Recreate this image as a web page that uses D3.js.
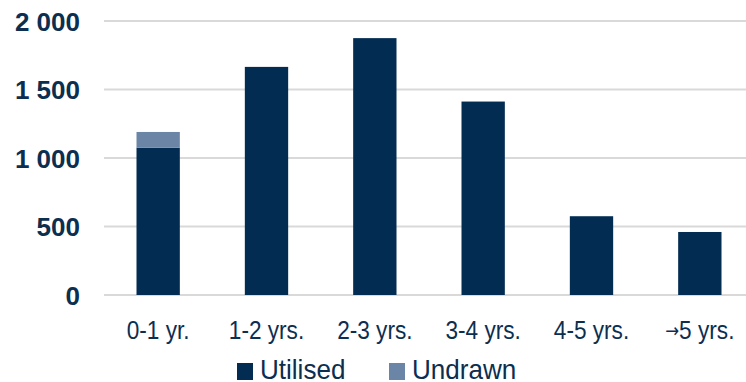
<!DOCTYPE html>
<html><head><meta charset="utf-8">
<script src="https://cdn.jsdelivr.net/npm/d3@7"></script>
<style>
html,body{margin:0;padding:0;background:#fff;}
</style></head>
<body>
<svg id="chart" width="746" height="382"></svg>
<script>
const categories = ["0-1 yr.", "1-2 yrs.", "2-3 yrs.", "3-4 yrs.", "4-5 yrs.", "\u21925 yrs."];
const utilised = [1075, 1665, 1875, 1412, 575, 460];
const undrawn = [115, 0, 0, 0, 0, 0];
const yTicks = [0, 500, 1000, 1500, 2000];
const seriesNames = ["Utilised", "Undrawn"];
const colors = ["#022c51", "#6a85a5"];

const svg = d3.select("#chart");
const x = d3.scaleBand().domain(categories).range([104, 754]).paddingInner(0.6).paddingOuter(0.3);
const y = d3.scaleLinear().domain([0, 2000]).range([295, 21]);
const fmt = d3.formatLocale({decimal: ".", thousands: " ", grouping: [3], currency: ["", ""]}).format(",");

function condense(sel, f) {
  sel.each(function() {
    const len = this.getComputedTextLength();
    d3.select(this).attr("textLength", len * f).attr("lengthAdjust", "spacingAndGlyphs");
  });
}

// gridlines
svg.append("g").selectAll("line").data(yTicks).join("line")
  .attr("x1", 104).attr("x2", 746)
  .attr("y1", d => y(d)).attr("y2", d => y(d))
  .attr("stroke", "#d9d9d9").attr("stroke-width", 2);

// y axis labels
const yAxis = d3.axisLeft(y).tickValues(yTicks).tickFormat(fmt).tickSize(0).tickPadding(0);
const gy = svg.append("g").attr("transform", "translate(80,0)").call(yAxis);
gy.select(".domain").remove();
gy.selectAll("text")
  .attr("font-family", "Liberation Sans, Arial, sans-serif")
  .attr("font-weight", "bold").attr("font-size", 26).attr("fill", "#0c2e4f")
  .attr("dy", "0.36em");

// stacked data
const stackData = categories.map((c, i) => ({cat: c, Utilised: utilised[i], Undrawn: undrawn[i]}));
const stack = d3.stack().keys(seriesNames)(stackData);

svg.append("g").selectAll("g").data(stack).join("g")
  .attr("fill", (d, i) => colors[i])
  .selectAll("rect").data(d => d.filter(p => p[1] - p[0] > 0)).join("rect")
  .attr("x", d => x(d.data.cat))
  .attr("width", x.bandwidth())
  .attr("y", d => y(d[1]))
  .attr("height", d => y(d[0]) - y(d[1]));

// x axis labels
const xAxis = d3.axisBottom(x).tickSize(0).tickPadding(0);
const gx = svg.append("g").attr("transform", "translate(0,339)").call(xAxis);
gx.select(".domain").remove();
gx.selectAll("text")
  .attr("dy", 0)
  .attr("font-family", "Liberation Sans, Arial, sans-serif")
  .attr("font-size", 26).attr("fill", "#0c2e4f")
  .each(function(d) {
    if (d.startsWith("\u2192")) {
      const t = d3.select(this).text(null);
      t.append("tspan").attr("font-family", "DejaVu Sans").attr("font-size", 19).attr("dy", -2).text("\u2192");
      t.append("tspan").attr("dy", 2).text(d.slice(1));
    }
  })
  .call(condense, 0.87);

// legend
const legendX = [237, 389];
const lg = svg.append("g");
seriesNames.forEach((name, i) => {
  lg.append("rect").attr("x", legendX[i]).attr("y", 363).attr("width", 16).attr("height", 17).attr("fill", colors[i]);
  lg.append("text").attr("x", legendX[i] + 23).attr("y", 379)
    .attr("font-family", "Liberation Sans, Arial, sans-serif")
    .attr("font-size", 28).attr("fill", "#0c2e4f").text(name)
    .call(condense, 0.93);
});
</script>
</body></html>
